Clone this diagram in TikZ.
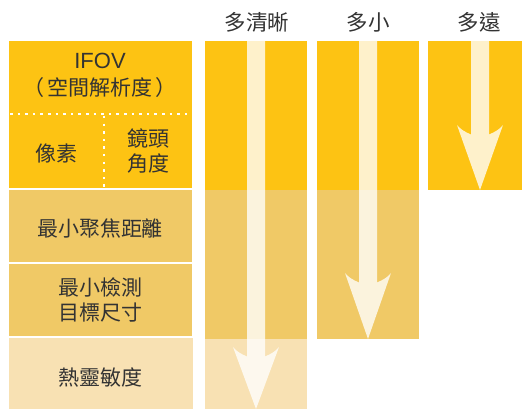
\documentclass[tikz,border=0pt]{standalone}
\usepackage{fontspec}
\setmainfont{Noto Sans CJK TC}
\newfontfamily\latinfont{Liberation Sans}
\definecolor{ylw}{HTML}{FDC313}
\definecolor{gold}{HTML}{F0C966}
\definecolor{pale}{HTML}{F8E1B3}
\definecolor{txt}{HTML}{333333}
\tikzset{
  lbl/.style={text=txt, align=center, inner sep=0pt, font=\fontsize{21}{25.5}\selectfont},
  hdr/.style={text=txt, align=center, inner sep=0pt, font=\fontsize{21.5}{25}\selectfont},
  dotline/.style={white, line width=2.5pt, line cap=butt, dash pattern=on 2.5pt off 5.1pt},
  shaft/.style={fill=white, fill opacity=0.78}
}
\newcommand{\downarrowshape}[4]{% cx, top, corner y, tip y
  \fill[shaft] (#1-9,#2) -- (#1-9,#3+9.5) .. controls (#1-15,#3+7) and (#1-20,#3+4) .. (#1-23,#3)
    -- (#1,#4) -- (#1+23,#3) .. controls (#1+20,#3+4) and (#1+15,#3+7) .. (#1+9,#3+9.5)
    -- (#1+9,#2) -- cycle;}
\begin{document}
\begin{tikzpicture}[x=1pt,y=-1pt]
\useasboundingbox (0,0) rectangle (522,409);
% left column
\fill[ylw] (9,41) rectangle (192,188);
\fill[gold] (9,190) rectangle (192,262);
\fill[gold] (9,264) rectangle (192,336);
\fill[pale] (9,338) rectangle (193,409);
\coordinate (hl) at (10,114);
\coordinate (hr) at (192,114);
\coordinate (vt) at (104,116);
\coordinate (vb) at (104,190);
\draw[dotline] (hl) -- (hr);
\draw[dotline] (vt) -- (vb);
% column 2
\fill[ylw] (205,41) rectangle (307,190);
\fill[gold] (205,190) rectangle (307,339);
\fill[pale] (205,339) rectangle (307,409);
\downarrowshape{256}{41}{347}{409}
% column 3
\fill[ylw] (317,41) rectangle (419,190);
\fill[gold] (317,190) rectangle (419,339);
\downarrowshape{368}{41}{273}{339}
% column 4
\fill[ylw] (428,41) rectangle (522,190);
\downarrowshape{480}{41}{125}{190}
% texts
\node[hdr] (h1) at (257,22) {多清晰};
\node[hdr] (h2) at (368,22) {多小};
\node[hdr] (h3) at (479,22) {多遠};
\node[lbl, font=\latinfont\fontsize{22}{25}\selectfont] (ifov) at (100,61) {IFOV};
\node[lbl] (kj) at (100,88) {（\hspace{3pt}空間解析度\hspace{3pt}）};
\node[lbl] (px) at (56,153) {像素};
\node[lbl] (jt) at (148,151) {鏡頭\\角度};
\node[lbl] (jl) at (100,228) {最小聚焦距離};
\node[lbl] (mb) at (100,300) {最小檢測\\目標尺寸};
\node[lbl] (rl) at (100,377) {熱靈敏度};
\end{tikzpicture}
\end{document}
